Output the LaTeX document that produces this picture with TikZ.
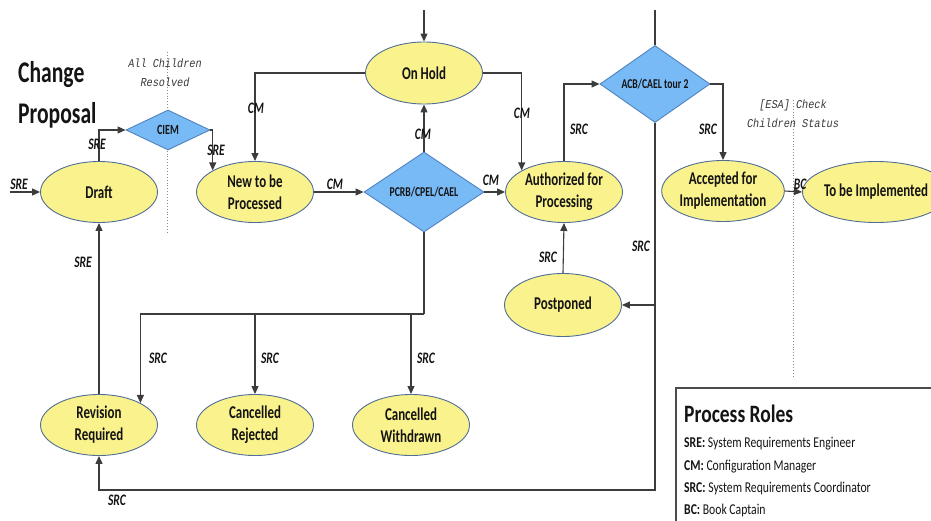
\documentclass[tikz,border=0pt]{standalone}
\usepackage{fontspec}
\setmainfont{Carlito}[FakeStretch=0.72]
\newfontfamily\legfont{Carlito}[FakeStretch=0.78]
\newfontfamily\monof{Liberation Mono}[FakeStretch=0.85]
\usetikzlibrary{shapes.geometric,arrows.meta}
\definecolor{ellfill}{RGB}{250,242,140}
\definecolor{ellline}{RGB}{80,110,150}
\definecolor{dfill}{RGB}{120,186,245}
\definecolor{dline}{RGB}{80,130,190}
\definecolor{lnc}{RGB}{60,60,60}
\definecolor{txt}{RGB}{20,20,20}
\tikzset{
  state/.style={ellipse, draw=ellline, fill=ellfill, line width=0.9pt, minimum width=117pt, minimum height=61pt, inner sep=0pt, align=center, text=txt, font=\fontsize{18}{22}\selectfont\bfseries},
  decision/.style={diamond, draw=dline, fill=dfill, line width=0.9pt, inner sep=0pt, text=txt, font=\fontsize{13.5}{16}\selectfont\bfseries},
  arr/.style={draw=lnc, line width=1.1pt, -{Triangle[length=8pt,width=7pt]}},
  ln/.style={draw=lnc, line width=1.1pt},
  lbl/.style={font=\fontsize{16}{16}\selectfont\bfseries\itshape, text=txt, inner sep=1pt},
  note/.style={font=\monof\itshape\fontsize{12}{19}\selectfont, text=black!78, inner sep=0pt},
  guide/.style={draw=black!45, dotted, line width=0.9pt},
  legline/.style={anchor=base west, inner sep=0pt, text=txt, font=\legfont\fontsize{15}{15}\selectfont},
}
\begin{document}
\begin{tikzpicture}[x=1pt,y=-1pt]
\useasboundingbox (0,0) rectangle (931,520);
\clip (0,0) rectangle (931,520);

% title
\node[anchor=base west, inner sep=0pt, text=txt, font=\fontsize{30}{30}\selectfont\bfseries] (title1) at (18,82) {Change};
\node[anchor=base west, inner sep=0pt, text=txt, font=\fontsize{30}{30}\selectfont\bfseries] (title2) at (18,123) {Proposal};

% guide notes
\coordinate (g1a) at (167,52);
\coordinate (g1b) at (167,232);
\draw[guide] (g1a) -- (g1b);
\node[note, anchor=base] (n1) at (165,67) {All Children};
\node[note, anchor=base] (n2) at (165,86) {Resolved};
\coordinate (g2a) at (793,100);
\coordinate (g2b) at (793,376);
\draw[guide] (g2a) -- (g2b);
\node[note, anchor=base] (n3) at (793,108) {[ESA] Check};
\node[note, anchor=base] (n4) at (793,127) {Children Status};

% states
\node[state] (draft) at (99,192) {Draft};
\node[state] (new) at (255,192) {New to be\\Processed};
\node[state, minimum height=62pt] (onhold) at (424,73) {On Hold};
\node[state] (auth) at (564,192) {Authorized for\\Processing};
\node[state] (acc) at (723,191) {Accepted for\\Implementation};
\node[state, minimum width=112pt] (tbi) at (876,192) {To be Implemented};
\node[state, minimum height=63pt] (post) at (563,305) {Postponed};
\node[state] (rev) at (99,425) {Revision\\Required};
\node[state] (crej) at (255,425) {Cancelled\\Rejected};
\node[state] (cwd) at (411,425) {Cancelled\\Withdrawn};

% decisions
\node[decision, minimum width=84pt, minimum height=40pt, font=\fontsize{14}{16}\selectfont\bfseries] (ciem) at (168,130) {CIEM};
\node[decision, minimum width=120pt, minimum height=80pt] (pcrb) at (424,192) {PCRB/CPEL/CAEL};
\node[decision, minimum width=110pt, minimum height=72pt] (acb) at (655,84) {ACB/CAEL tour 2};

% connectors
\coordinate (in0) at (10,192);
\draw[arr] (in0) -- (draft.west);
\node[lbl] (l1) at (19,184) {SRE};

\draw[arr] (draft.north) |- (ciem.west);
\node[lbl] (l2) at (97,144) {SRE};

\draw[arr] (ciem.east) -| (new.153);
\node[lbl] (l3) at (216,150) {SRE};

\draw[arr] (onhold.west) -| (new.north);
\node[lbl] (l4) at (256,108) {CM};

\draw[arr] (new.east) -- (pcrb.west);
\node[lbl] (l5) at (335,184) {CM};

\draw[arr] (pcrb.north) -- (onhold.south);
\node[lbl] (l6) at (423,134) {CM};

\draw[arr] (pcrb.east) -- (auth.west);
\node[lbl] (l7) at (491,180) {CM};

\draw[arr] (onhold.east) -| (auth.153);
\node[lbl] (l8) at (522,113) {CM};

\coordinate (top1) at (424,10);
\draw[arr] (top1) -- (onhold.north);

\draw[arr] (auth.north) |- (acb.west);
\node[lbl] (l9) at (579,129) {SRC};

\draw[arr] (acb.east) -| (acc.north);
\node[lbl] (l10) at (708,129) {SRC};

\draw[arr] (acc.east) -- (tbi.west);
\node[lbl] (l11) at (800,184) {BC};

\coordinate (top2) at (655,10);
\draw[ln] (top2) -- (acb.north);

\coordinate (c1) at (655,305);
\coordinate (c2) at (655,490);
\draw[arr] (acb.south) -- (c1) -- (post.east);
\node[lbl] (l12) at (641,246) {SRC};
\draw[arr] (c1) -- (c2) -| (rev.south);
\node[lbl] (l13) at (117,500) {SRC};

\draw[arr] (post.north) -- (auth.south);
\node[lbl] (l14) at (548,257) {SRC};

\coordinate (b0) at (424,314);
\draw[ln] (pcrb.south) -- (b0);
\draw[arr] (b0) -| (rev.28);
\draw[arr] (b0 -| crej.north) -- (crej.north);
\draw[arr] (b0 -| cwd.north) -- (cwd.north);
\node[lbl] (l15) at (158,358) {SRC};
\node[lbl] (l16) at (270,358) {SRC};
\node[lbl] (l17) at (426,358) {SRC};

\draw[arr] (rev.north) -- (draft.south);
\node[lbl] (l18) at (83,262) {SRE};

% legend
\coordinate (lg0) at (676,530);
\coordinate (lg1) at (676,388);
\coordinate (lg2) at (940,388);
\draw[draw=black!70, line width=1.2pt] (lg0) -- (lg1) -- (lg2);
\node[anchor=base west, inner sep=0pt, text=txt, font=\legfont\fontsize{25}{25}\selectfont\bfseries] (lgt) at (684,422) {Process Roles};
\node[legline] (lgA) at (684,447) {\textbf{SRE:} System Requirements Engineer};
\node[legline] (lgB) at (684,470) {\textbf{CM:} Configuration Manager};
\node[legline] (lgC) at (684,492) {\textbf{SRC:} System Requirements Coordinator};
\node[legline] (lgD) at (684,514) {\textbf{BC:} Book Captain};
\end{tikzpicture}
\end{document}
